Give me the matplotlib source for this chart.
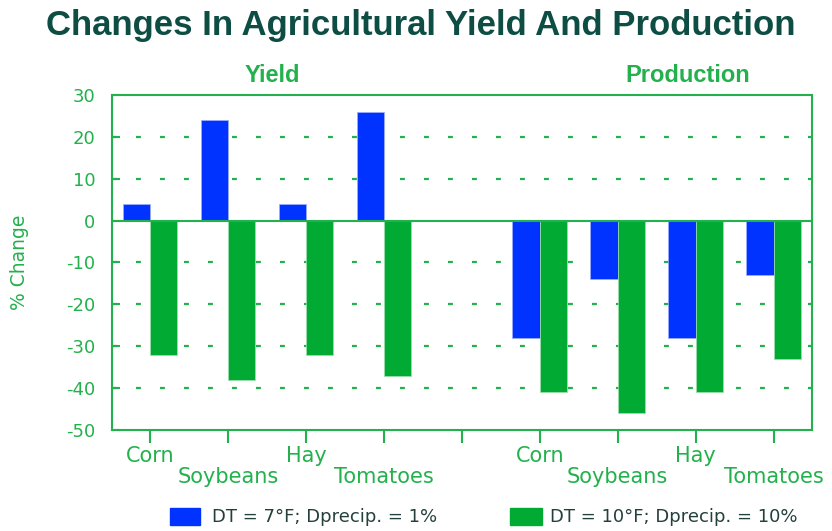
import matplotlib.pyplot as plt
import numpy as np

plt.rcParams['axes.unicode_minus'] = False

# data
crops = ['Corn', 'Soybeans', 'Hay', 'Tomatoes']
yield_low = [4, 24, 4, 26]
yield_high = [-32, -38, -32, -37]
prod_low = [-28, -14, -28, -13]
prod_high = [-41, -46, -41, -33]
label_low = 'DT = 7°F; Dprecip. = 1%'
label_high = 'DT = 10°F; Dprecip. = 10%'

blue = '#0033ff'
green = '#00aa33'
txt_green = '#22b14c'
dark = '#0d4d44'

fig = plt.figure(figsize=(8.32, 5.31), dpi=100)
ax = fig.add_axes([0.1346, 0.1902, 0.841, 0.631])

# 4 yield slots, one empty slot, 4 production slots
x = np.array([0, 1, 2, 3, 5, 6, 7, 8])
low = yield_low + prod_low
high = yield_high + prod_high
w = 0.35

ax.bar(x - w / 2, low, w, color=blue, edgecolor='#9fb0ff', linewidth=0.5, zorder=3)
ax.bar(x + w / 2, high, w, color=green, edgecolor='#9fe0b0', linewidth=0.5, zorder=3)

ax.set_xlim(-0.49, 8.49)
ax.set_ylim(-50, 30)

for yv in [20, 10, -10, -20, -30, -40]:
    ax.axhline(yv, color=txt_green, lw=1.6, ls=(0, (2.2, 8.6)), zorder=1)
ax.axhline(0, color=txt_green, lw=1.5, zorder=4)

for s in ax.spines.values():
    s.set_color(txt_green)
    s.set_linewidth(1.5)

ax.set_yticks(range(-50, 31, 10))
ax.tick_params(axis='y', direction='in', length=6, width=1.5, color=txt_green,
               labelcolor=txt_green, labelsize=13, pad=12)
ax.set_xticks(list(range(9)))
ax.set_xticklabels([])
ax.tick_params(axis='x', direction='out', length=9, width=1.5, color=txt_green)

# staggered category labels
for i, xi in enumerate(x):
    name = crops[i % 4]
    yoff = -0.077 if (i % 4) % 2 == 0 else -0.14
    ax.text(xi, yoff, name, transform=ax.get_xaxis_transform(), ha='center',
            va='center', fontsize=15, color=txt_green)

ax.set_ylabel('% Change', color=txt_green, fontsize=13.5, labelpad=27)

fig.text(0.506, 0.952, 'Changes In Agricultural Yield And Production', ha='center',
         va='center', fontsize=25, fontweight='bold', color=dark,
         family='Liberation Sans')
fig.text(272 / 832, 1 - 76 / 531, 'Yield', ha='center', va='center', fontsize=17,
         fontweight='bold', color=txt_green, family='Liberation Sans')
fig.text(688 / 832, 1 - 76 / 531, 'Production', ha='center', va='center', fontsize=17,
         fontweight='bold', color=txt_green, family='Liberation Sans')

# legend at the bottom
fig.patches.append(plt.Rectangle((170 / 832, 1 - 525 / 531), 30 / 832, 17 / 531,
                                 transform=fig.transFigure, color=blue))
fig.text(212 / 832, 1 - 517 / 531, label_low, ha='left', va='center', fontsize=13,
         color='#24403c')
fig.patches.append(plt.Rectangle((510 / 832, 1 - 525 / 531), 32 / 832, 17 / 531,
                                 transform=fig.transFigure, color=green))
fig.text(550 / 832, 1 - 517 / 531, label_high, ha='left', va='center', fontsize=13,
         color='#24403c')

fig.savefig('out.png', dpi=100)
